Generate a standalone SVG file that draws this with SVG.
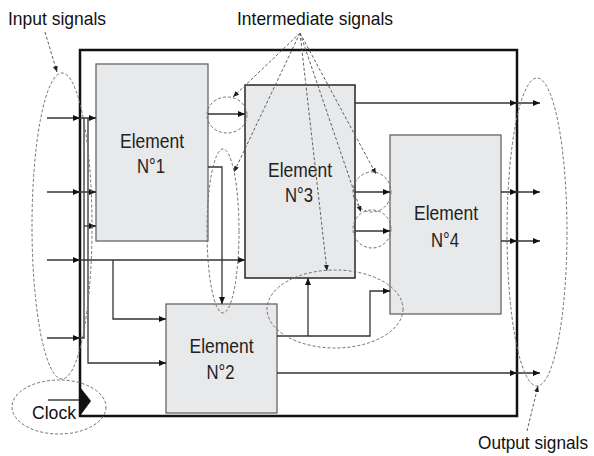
<svg xmlns="http://www.w3.org/2000/svg" width="594" height="456" viewBox="0 0 594 456">
<defs>
<marker id="ah" markerUnits="userSpaceOnUse" markerWidth="8" markerHeight="7" refX="7" refY="3" orient="auto">
<path d="M0,0 L7,3 L0,6 z" fill="#111"/>
</marker>
<marker id="ahs" markerUnits="userSpaceOnUse" markerWidth="8" markerHeight="7" refX="6" refY="2.5" orient="auto">
<path d="M0,0 L6,2.5 L0,5 z" fill="#222"/>
</marker>
</defs>
<style>
.box{fill:#e8e9eb;stroke:#666;stroke-width:1.3}
.wire{fill:none;stroke:#333;stroke-width:1.3}
.dash{fill:none;stroke:#707070;stroke-width:1;stroke-dasharray:3 2}
.lead{fill:none;stroke:#606060;stroke-width:1;stroke-dasharray:3 2}
.lbl{font-family:"Liberation Sans",Arial,sans-serif;font-size:18.5px;fill:#111}
.el{font-family:"Liberation Sans",Arial,sans-serif;font-size:19.5px;fill:#222;text-anchor:middle}
</style>
<rect width="594" height="456" fill="#fff"/>

<g id="frame">
<rect x="80" y="50" width="437" height="366" fill="none" stroke="#111" stroke-width="2.5"/>
<polygon points="80,387 91,401 80,416" fill="#111"/>
<line x1="48" y1="400" x2="80" y2="400" stroke="#111" stroke-width="1.2"/>
</g>

<g id="element1">
<rect class="box" x="96" y="64" width="112" height="177"/>
<text class="el" x="152" y="148" textLength="64" lengthAdjust="spacingAndGlyphs">Element</text>
<text class="el" x="151" y="173" textLength="28" lengthAdjust="spacingAndGlyphs">N°1</text>
</g>
<g id="element3">
<rect class="box" x="245" y="85" width="110" height="193" style="stroke:#333;stroke-width:1.6"/>
<text class="el" x="300" y="177" textLength="64" lengthAdjust="spacingAndGlyphs">Element</text>
<text class="el" x="299" y="202" textLength="28" lengthAdjust="spacingAndGlyphs">N°3</text>
</g>
<g id="element4">
<rect class="box" x="390" y="135" width="111" height="179"/>
<text class="el" x="446" y="220" textLength="64" lengthAdjust="spacingAndGlyphs">Element</text>
<text class="el" x="445" y="247" textLength="28" lengthAdjust="spacingAndGlyphs">N°4</text>
</g>
<g id="element2">
<rect class="box" x="166" y="304" width="111" height="109"/>
<text class="el" x="221.5" y="353" textLength="64" lengthAdjust="spacingAndGlyphs">Element</text>
<text class="el" x="220.5" y="379" textLength="28" lengthAdjust="spacingAndGlyphs">N°2</text>
</g>

<g id="connectors">
<path class="wire" d="M47,118 H80 H96" marker-mid="url(#ah)" marker-end="url(#ah)"/>
<path class="wire" d="M47,192 H80 H96" marker-mid="url(#ah)" marker-end="url(#ah)"/>
<path class="wire" d="M47,260 H80 H245" marker-mid="url(#ah)" marker-end="url(#ah)"/>
<path class="wire" d="M47,338 H80" marker-end="url(#ah)"/>
<path class="wire" d="M80,338 H84 V118"/>
<path class="wire" d="M84,226 H96" marker-end="url(#ah)"/>
<path class="wire" d="M88,118 V363 H166" marker-end="url(#ah)"/>
<path class="wire" d="M113,260 V319 H166" marker-end="url(#ah)"/>
<path class="wire" d="M208,114 H245" marker-end="url(#ah)"/>
<path class="wire" d="M208,167 H222 V304" marker-end="url(#ah)"/>
<path class="wire" d="M355,103 H517 H540" marker-mid="url(#ah)" marker-end="url(#ah)"/>
<path class="wire" d="M355,192 H390" marker-end="url(#ah)"/>
<path class="wire" d="M355,231 H390" marker-end="url(#ah)"/>
<path class="wire" d="M501,192 H517 H540" marker-mid="url(#ah)" marker-end="url(#ah)"/>
<path class="wire" d="M501,241 H517 H540" marker-mid="url(#ah)" marker-end="url(#ah)"/>
<path class="wire" d="M277,336 H370 V291 H390" marker-end="url(#ah)"/>
<path class="wire" d="M308,336 V278" marker-end="url(#ah)"/>
<path class="wire" d="M277,373 H517 H540" marker-mid="url(#ah)" marker-end="url(#ah)"/>
</g>

<g id="signal-groups">
<ellipse class="dash" cx="62" cy="226" rx="30" ry="153"/>
<ellipse class="dash" cx="59" cy="407" rx="47" ry="27"/>
<ellipse class="dash" cx="227" cy="115" rx="20" ry="18"/>
<ellipse class="dash" cx="223" cy="231" rx="16" ry="82"/>
<ellipse class="dash" cx="372" cy="192" rx="19" ry="20"/>
<ellipse class="dash" cx="372" cy="229" rx="19" ry="19"/>
<ellipse class="dash" cx="335" cy="309" rx="68" ry="39"/>
<ellipse class="dash" cx="537" cy="232" rx="30" ry="154"/>
</g>

<g id="leaders">
<path class="lead" d="M45,32 L57,72" marker-end="url(#ahs)"/>
<path class="lead" d="M300,33 L233,97" marker-end="url(#ahs)"/>
<path class="lead" d="M300,33 L234,172" marker-end="url(#ahs)"/>
<path class="lead" d="M300,33 L327,271" marker-end="url(#ahs)"/>
<path class="lead" d="M300,33 L376,174" marker-end="url(#ahs)"/>
<path class="lead" d="M300,33 L361,212" marker-end="url(#ahs)"/>
<path class="lead" d="M527,431 L538,386" marker-end="url(#ahs)"/>
</g>

<g id="labels">
<text class="lbl" x="8" y="25" textLength="98" lengthAdjust="spacingAndGlyphs">Input signals</text>
<text class="lbl" x="237" y="25" textLength="156" lengthAdjust="spacingAndGlyphs">Intermediate signals</text>
<text class="lbl" x="478" y="449" style="font-size:17.5px" textLength="110" lengthAdjust="spacingAndGlyphs">Output signals</text>
<text class="lbl" x="32" y="419" textLength="44" lengthAdjust="spacingAndGlyphs">Clock</text>
</g>
</svg>
